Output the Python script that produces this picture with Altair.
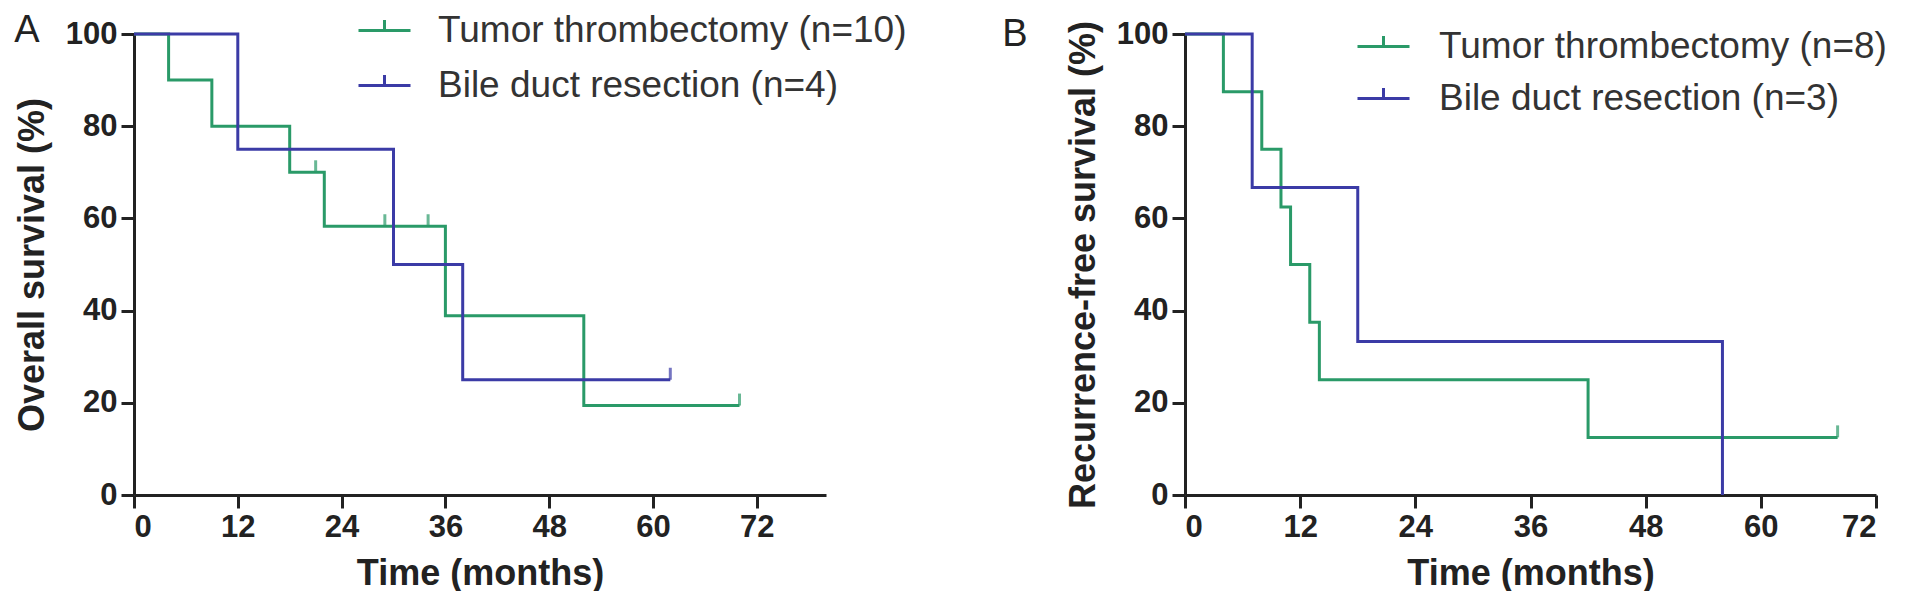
import pandas as pd
import altair as alt

GREEN = "#2a9a68"
BLUE = "#3b3ba6"
INK = "#222222"

# Panel A - overall survival (steps and censor ticks)
os_labels = ["Tumor thrombectomy (n=10)", "Bile duct resection (n=4)"]
os_tt_time = [0, 4, 9, 18, 22, 36, 52, 70]
os_tt_surv = [100, 90, 80, 70, 58.3, 38.9, 19.4, 19.4]
os_tt_cens_time = [21, 29, 34, 70]
os_tt_cens_surv = [70, 58.3, 58.3, 19.4]
os_bd_time = [0, 12, 30, 38, 62]
os_bd_surv = [100, 75, 50, 25, 25]
os_bd_cens_time = [62]
os_bd_cens_surv = [25]

# Panel B - recurrence-free survival
rfs_labels = ["Tumor thrombectomy (n=8)", "Bile duct resection (n=3)"]
rfs_tt_time = [0, 4, 8, 10, 11, 13, 14, 42, 68]
rfs_tt_surv = [100, 87.5, 75, 62.5, 50, 37.5, 25, 12.5, 12.5]
rfs_tt_cens_time = [68]
rfs_tt_cens_surv = [12.5]
rfs_bd_time = [0, 7, 18, 56]
rfs_bd_surv = [100, 66.7, 33.3, 0]
rfs_bd_cens_time = []
rfs_bd_cens_surv = []

x_ticks = [0, 12, 24, 36, 48, 60, 72]
y_ticks = [0, 20, 40, 60, 80, 100]


def frame(time, surv, group):
    return pd.DataFrame({"time": time, "surv": surv, "group": group})


def km_panel(labels, curves, censors, x_max, width, y_title, letter,
             letter_dx, letter_dy, legend_x, legend_y, row_pad, label_off):
    steps = pd.concat([frame(t, s, g) for (t, s), g in zip(curves, labels)])
    ticks = pd.concat([frame(t, s, g) for (t, s), g in zip(censors, labels)])

    x = alt.X("time:Q", scale=alt.Scale(domain=[0, x_max], nice=False),
              axis=alt.Axis(values=x_ticks, title="Time (months)"))
    y = alt.Y("surv:Q", scale=alt.Scale(domain=[0, 100], nice=False),
              axis=alt.Axis(values=y_ticks, title=y_title))
    cscale = alt.Scale(domain=labels, range=[GREEN, BLUE])

    lines = alt.Chart(steps).mark_line(
        interpolate="step-after", strokeWidth=3
    ).encode(
        x=x, y=y,
        color=alt.Color("group:N", scale=cscale, legend=alt.Legend(
            title=None, orient="none", legendX=legend_x, legendY=legend_y,
            symbolType="M-2,0H2M0,0V-0.8", symbolSize=676,
            symbolStrokeWidth=3, symbolFillColor="transparent",
            labelFont="Liberation Sans", labelFontSize=37, labelLimit=0,
            labelColor="#333333", labelOffset=label_off,
            rowPadding=row_pad, padding=0)),
    )

    cens = alt.Chart(ticks).mark_tick(
        orient="vertical", size=12, thickness=3, yOffset=-6
    ).encode(
        x=x, y=y,
        color=alt.Color("group:N", scale=cscale, legend=None),
    )

    return (lines + cens).properties(
        width=width, height=461,
        title=alt.Title(letter, anchor="start", frame="bounds",
                        fontSize=38, fontWeight="normal",
                        font="Liberation Sans", color=INK,
                        dx=letter_dx, dy=letter_dy),
    )


panel_a = km_panel(
    os_labels,
    [(os_tt_time, os_tt_surv), (os_bd_time, os_bd_surv)],
    [(os_tt_cens_time, os_tt_cens_surv), (os_bd_cens_time, os_bd_cens_surv)],
    80, 692, "Overall survival (%)", "A", 0, 42, 232, -22, 17, 35,
)
panel_b = km_panel(
    rfs_labels,
    [(rfs_tt_time, rfs_tt_surv), (rfs_bd_time, rfs_bd_surv)],
    [(rfs_tt_cens_time, rfs_tt_cens_surv), (rfs_bd_cens_time, rfs_bd_cens_surv)],
    72, 691, "Recurrence-free survival (%)", "B", -63, 40, 180, -6, 14, 37,
)

chart = alt.hconcat(panel_a, panel_b, spacing=95).resolve_scale(
    color="independent"
).resolve_legend(
    color="independent"
).properties(
    padding={"left": 6, "top": 4, "right": 0, "bottom": 0}
).configure_view(
    strokeWidth=0
).configure_axis(
    grid=False,
    domainColor=INK, domainWidth=3,
    tickColor=INK, tickWidth=3, tickSize=13,
    labelFont="Liberation Sans", labelFontWeight="bold", labelFontSize=31,
    labelColor=INK, labelPadding=4,
    titleFont="Liberation Sans", titleFontWeight="bold", titleFontSize=36,
    titleColor=INK, titlePadding=14,
)

chart.save("out.html", embed_options={"renderer": "svg", "actions": False})
